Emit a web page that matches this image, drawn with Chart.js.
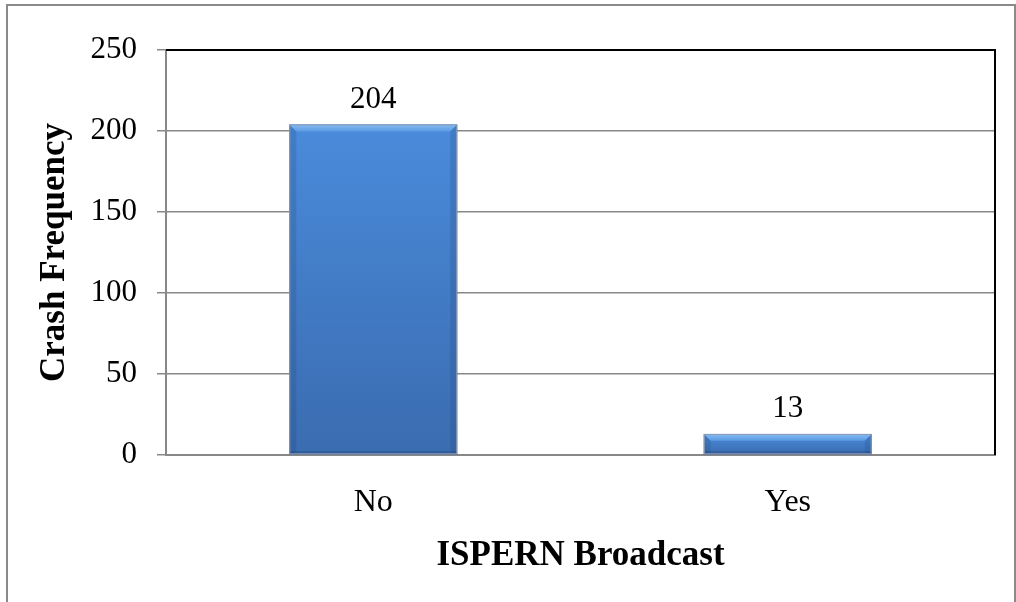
<!DOCTYPE html>
<html>
<head>
<meta charset="utf-8">
<script src="https://cdn.jsdelivr.net/npm/chart.js@4"></script>
<style>
    html, body { margin: 0; padding: 0; background: #fff; }
    #wrap { width: 1016px; height: 602px; }
</style>
</head>
<body>
<div id="wrap"><canvas id="myChart" width="1016" height="602"></canvas></div>
<script>
"use strict";

const categories = ["No", "Yes"];
const crashCounts = [204, 13];
const yTicks = [0, 50, 100, 150, 200, 250];

const serif = "'Liberation Serif', 'Times New Roman', serif";

// outer frame of the figure
const framePlugin = {
    id: "frame",
    beforeDraw: chart => {
        const ctx = chart.ctx;
        ctx.save();
        ctx.fillStyle = "#fff";
        ctx.fillRect(0, 0, chart.width, chart.height);
        ctx.strokeStyle = "#8a8a8a";
        ctx.lineWidth = 2;
        ctx.strokeRect(7, 5, chart.width - 8, chart.height + 20);
        ctx.restore();
    },
    afterDraw: chart => {
        // black top and right edges of the plot area
        const ctx = chart.ctx;
        const a = chart.chartArea;
        ctx.save();
        ctx.strokeStyle = "#000";
        ctx.lineWidth = 2;
        ctx.beginPath();
        ctx.moveTo(a.left, a.top);
        ctx.lineTo(a.right, a.top);
        ctx.lineTo(a.right, a.bottom);
        ctx.stroke();
        ctx.restore();
    }
};

// bevelled bars and value labels
const barPlugin = {
    id: "bevelBars",
    afterDatasetsDraw: chart => {
        const ctx = chart.ctx;
        const meta = chart.getDatasetMeta(0);
        meta.data.forEach((bar, i) => {
            const left = bar.x - bar.width / 2;
            const right = bar.x + bar.width / 2;
            const top = bar.y;
            const bottom = bar.base;
            const h = bottom - top;
            const b = Math.min(7, h / 3);

            ctx.save();
            const g = ctx.createLinearGradient(0, top, 0, bottom);
            g.addColorStop(0, "#4a8bdb");
            g.addColorStop(1, "#3a6cb0");
            ctx.fillStyle = g;
            ctx.fillRect(left, top, right - left, h);

            // top bevel
            const gt = ctx.createLinearGradient(0, top, 0, top + b);
            gt.addColorStop(0, "#85bcf4");
            gt.addColorStop(1, "#5c9be3");
            ctx.fillStyle = gt;
            ctx.beginPath();
            ctx.moveTo(left, top);
            ctx.lineTo(right, top);
            ctx.lineTo(right - b, top + b);
            ctx.lineTo(left + b, top + b);
            ctx.closePath();
            ctx.fill();

            // side bevels
            ctx.fillStyle = "rgba(30, 60, 110, 0.18)";
            ctx.beginPath();
            ctx.moveTo(left, top);
            ctx.lineTo(left + b, top + b);
            ctx.lineTo(left + b, bottom - 2);
            ctx.lineTo(left, bottom);
            ctx.closePath();
            ctx.fill();
            ctx.beginPath();
            ctx.moveTo(right, top);
            ctx.lineTo(right - b, top + b);
            ctx.lineTo(right - b, bottom - 2);
            ctx.lineTo(right, bottom);
            ctx.closePath();
            ctx.fill();

            // thin darker bottom edge
            ctx.fillStyle = "rgba(20, 45, 90, 0.25)";
            ctx.fillRect(left, bottom - 3, right - left, 3);

            ctx.strokeStyle = "#8e9bb0";
            ctx.lineWidth = 1;
            ctx.strokeRect(left + 0.5, top + 0.5, right - left - 1, h - 1);

            // value label
            ctx.fillStyle = "#000";
            ctx.font = "31px " + serif;
            ctx.textAlign = "center";
            ctx.textBaseline = "alphabetic";
            ctx.fillText(String(crashCounts[i]), bar.x, top - 17);
            ctx.restore();
        });
    }
};

const renderChart = () => {
    const ctx = document.getElementById("myChart");

    new Chart(ctx, {
        type: "bar",
        data: {
            labels: categories,
            datasets: [{
                label: "Crash Frequency",
                data: crashCounts,
                backgroundColor: "#4378c4",
                borderWidth: 0,
                barPercentage: 0.405,
                categoryPercentage: 1
            }]
        },
        options: {
            responsive: false,
            animation: false,
            layout: {
                padding: { left: 0, top: 50, right: 21, bottom: 0 }
            },
            plugins: {
                legend: { display: false },
                tooltip: { enabled: false }
            },
            scales: {
                x: {
                    grid: { display: false, drawTicks: false },
                    border: { display: true, color: "#888", width: 2 },
                    ticks: {
                        color: "#000",
                        font: { family: serif, size: 32 },
                        padding: 28
                    },
                    title: {
                        display: true,
                        text: "ISPERN Broadcast",
                        color: "#000",
                        font: { family: serif, size: 35, weight: "bold" },
                        padding: { top: 0, bottom: 25 }
                    },
                    afterFit: scale => { scale.height = 147; }
                },
                y: {
                    min: 0,
                    max: 250,
                    afterBuildTicks: scale => {
                        scale.ticks = yTicks.map(v => ({ value: v }));
                    },
                    grid: {
                        color: "#888",
                        lineWidth: 1.5,
                        drawTicks: true,
                        tickLength: 9
                    },
                    border: { display: true, color: "#888", width: 2 },
                    ticks: {
                        color: "#000",
                        font: { family: serif, size: 31 },
                        padding: 20
                    },
                    title: {
                        display: true,
                        text: "Crash Frequency",
                        color: "#000",
                        font: { family: serif, size: 35, weight: "bold" },
                        padding: { top: 34, bottom: 0 }
                    },
                    afterFit: scale => { scale.width = 166; }
                }
            }
        },
        plugins: [framePlugin, barPlugin]
    });
};

document.addEventListener("DOMContentLoaded", () => {
    renderChart();
});
</script>
</body>
</html>
